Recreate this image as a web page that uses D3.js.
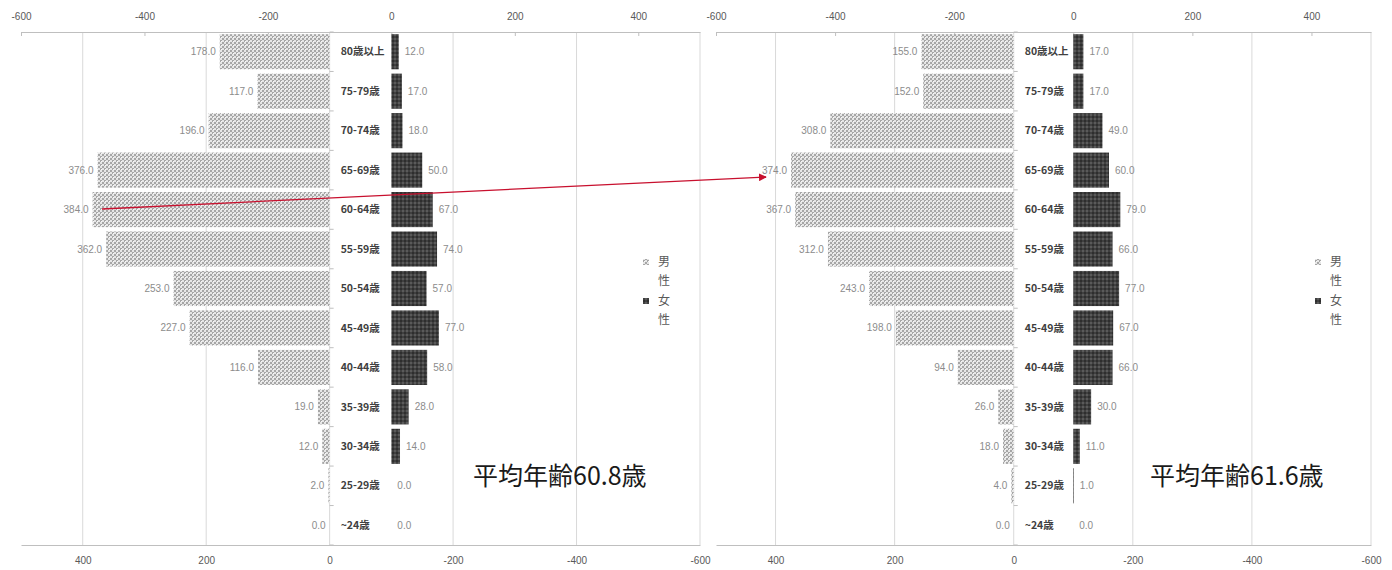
<!DOCTYPE html>
<html>
<head>
<meta charset="utf-8">
<script src="https://cdn.jsdelivr.net/npm/d3@7"></script>
<style>
  html, body { margin: 0; padding: 0; background: #fff; }
  svg { display: block; }
  .tick text { font-family: "Liberation Sans Narrow", "Liberation Sans", sans-serif; font-size: 10px; fill: #595959; }
</style>
</head>
<body>
<svg id="chart" width="1392" height="570"></svg>
<script>
// Age groups, top to bottom
const ageGroups = ["80歳以上", "75-79歳", "70-74歳", "65-69歳", "60-64歳", "55-59歳",
  "50-54歳", "45-49歳", "40-44歳", "35-39歳", "30-34歳", "25-29歳", "~24歳"];

// Earlier survey
const maleBefore   = [178, 117, 196, 376, 384, 362, 253, 227, 116, 19, 12, 2, 0];
const femaleBefore = [12, 17, 18, 50, 67, 74, 57, 77, 58, 28, 14, 0, 0];

// Later survey
const maleAfter   = [155, 152, 308, 374, 367, 312, 243, 198, 94, 26, 18, 4, 0];
const femaleAfter = [17, 17, 49, 60, 79, 66, 77, 67, 66, 30, 11, 1, 0];

const tickValues = [-600, -400, -200, 0, 200, 400];
const legendNames = ["男性", "女性"];
const averageLabels = ["平均年齢60.8歳", "平均年齢61.6歳"];

const svg = d3.select("#chart");
const defs = svg.append("defs");

// Fine dotted texture for male bars
const pm = defs.append("pattern").attr("id", "patMale")
  .attr("patternUnits", "userSpaceOnUse").attr("width", 4).attr("height", 4);
pm.append("rect").attr("width", 4).attr("height", 4).attr("fill", "#e6e6e6");
pm.append("rect").attr("x", 0).attr("y", 0).attr("width", 2).attr("height", 2).attr("fill", "#a6a6a6");
pm.append("rect").attr("x", 2).attr("y", 2).attr("width", 2).attr("height", 2).attr("fill", "#a6a6a6");
pm.append("rect").attr("x", 1).attr("y", 1).attr("width", 1).attr("height", 1).attr("fill", "#f8f8f8");

// Dark mottled texture for female bars
const pf = defs.append("pattern").attr("id", "patFemale")
  .attr("patternUnits", "userSpaceOnUse").attr("width", 4).attr("height", 4);
pf.append("rect").attr("width", 4).attr("height", 4).attr("fill", "#404040");
pf.append("rect").attr("x", 0).attr("y", 0).attr("width", 2).attr("height", 2).attr("fill", "#2e2e2e");
pf.append("rect").attr("x", 2).attr("y", 2).attr("width", 2).attr("height", 2).attr("fill", "#5a5a5a");

defs.append("marker").attr("id", "arrowHead")
  .attr("viewBox", "0 0 10 10").attr("refX", 9).attr("refY", 5)
  .attr("markerWidth", 6).attr("markerHeight", 6).attr("orient", "auto")
  .append("path").attr("d", "M0,0 L10,5 L0,10 z").attr("fill", "#c8102e");

const panels = [
  { x0: 21, x1: 700, male: maleBefore, female: femaleBefore, avg: averageLabels[0], avgX: 473, legendX: 643 },
  { x0: 716, x1: 1371, male: maleAfter, female: femaleAfter, avg: averageLabels[1], avgX: 1150, legendX: 1315 }
];

const y0 = 32, y1 = 545;

panels.forEach(p => {
  const g = svg.append("g");
  // female on the top axis, male on the reversed bottom axis
  const top = d3.scaleLinear().domain([-600, 500]).range([p.x0, p.x1]);
  const bottom = d3.scaleLinear().domain([500, -600]).range([p.x0, p.x1]);
  const y = d3.scaleBand().domain(ageGroups).range([y0, y1]).paddingInner(0.11).paddingOuter(0.055);

  // vertical gridlines
  g.append("g").selectAll("line").data(tickValues).join("line")
    .attr("x1", d => bottom(d)).attr("x2", d => bottom(d))
    .attr("y1", y0).attr("y2", y1)
    .attr("stroke", "#d9d9d9").attr("stroke-width", 1);

  // top axis
  const ta = g.append("g").attr("transform", `translate(0,${y0})`)
    .call(d3.axisTop(top).tickValues(tickValues).tickSize(-4).tickSizeOuter(0).tickPadding(12).tickFormat(d => String(d)));
  ta.select(".domain").attr("stroke", "#bfbfbf");
  ta.selectAll(".tick line").attr("stroke", "#bfbfbf");

  // bottom axis
  const ba = g.append("g").attr("transform", `translate(0,${y1})`)
    .call(d3.axisBottom(bottom).tickValues(tickValues).tickSize(0).tickSizeOuter(0).tickPadding(12).tickFormat(d => String(d)));
  ba.select(".domain").attr("stroke", "#bfbfbf");

  const mz = bottom(0), fz = top(0);

  // male bars
  g.append("g").selectAll("rect").data(ageGroups).join("rect")
    .attr("x", (d, i) => bottom(p.male[i]))
    .attr("y", d => y(d))
    .attr("width", (d, i) => mz - bottom(p.male[i]))
    .attr("height", y.bandwidth())
    .attr("fill", "url(#patMale)");

  // female bars
  g.append("g").selectAll("rect").data(ageGroups).join("rect")
    .attr("x", fz)
    .attr("y", d => y(d))
    .attr("width", (d, i) => top(p.female[i]) - fz)
    .attr("height", y.bandwidth())
    .attr("fill", "url(#patFemale)");

  // category axis ticks
  g.append("g").selectAll("line").data(d3.range(ageGroups.length + 1)).join("line")
    .attr("x1", mz).attr("x2", mz + 4)
    .attr("y1", i => y0 + i * (y1 - y0) / ageGroups.length)
    .attr("y2", i => y0 + i * (y1 - y0) / ageGroups.length)
    .attr("stroke", "#bfbfbf");

  const labelFont = "'Liberation Sans Narrow','Liberation Sans',sans-serif";

  // male value labels
  g.append("g").selectAll("text").data(ageGroups).join("text")
    .attr("x", (d, i) => bottom(p.male[i]) - 4)
    .attr("y", d => y(d) + y.bandwidth() / 2)
    .attr("dy", "0.35em").attr("text-anchor", "end")
    .attr("font-family", labelFont).attr("font-size", 10).attr("fill", "#8c8c8c")
    .text((d, i) => p.male[i].toFixed(1));

  // female value labels
  g.append("g").selectAll("text").data(ageGroups).join("text")
    .attr("x", (d, i) => top(p.female[i]) + 6)
    .attr("y", d => y(d) + y.bandwidth() / 2)
    .attr("dy", "0.35em").attr("text-anchor", "start")
    .attr("font-family", labelFont).attr("font-size", 10).attr("fill", "#8c8c8c")
    .text((d, i) => p.female[i].toFixed(1));

  // age group labels
  g.append("g").selectAll("text").data(ageGroups).join("text")
    .attr("x", mz + 11)
    .attr("y", d => y(d) + y.bandwidth() / 2)
    .attr("dy", "0.35em")
    .attr("font-family", "'Noto Sans CJK JP',sans-serif").attr("font-size", 10.5)
    .attr("font-weight", "bold").attr("fill", "#404040")
    .text(d => d);

  // legend
  const lg = g.append("g").attr("transform", `translate(${p.legendX},0)`);
  const items = [
    { name: legendNames[0], fill: "url(#patMale)", y: 262 },
    { name: legendNames[1], fill: "url(#patFemale)", y: 301 }
  ];
  items.forEach(it => {
    lg.append("rect").attr("x", 0).attr("y", it.y - 3).attr("width", 6).attr("height", 6).attr("fill", it.fill);
    const t = lg.append("text").attr("font-family", "'Noto Sans CJK JP',sans-serif")
      .attr("font-size", 12).attr("fill", "#595959");
    [...it.name].forEach((ch, k) => {
      t.append("tspan").attr("x", 15).attr("y", it.y + k * 19).attr("dy", "0.35em").text(ch);
    });
  });

  // average age
  g.append("text").attr("x", p.avgX).attr("y", 476).attr("dy", "0.35em")
    .attr("font-family", "'Noto Sans CJK JP',sans-serif").attr("font-size", 25)
    .attr("fill", "#1a1a1a").text(p.avg);
});

// arrow linking the 60-64 cohort to the 65-69 cohort five years later
svg.append("line")
  .attr("x1", 102).attr("y1", 209).attr("x2", 766).attr("y2", 177)
  .attr("stroke", "#c8102e").attr("stroke-width", 1.3)
  .attr("marker-end", "url(#arrowHead)");
</script>
</body>
</html>
